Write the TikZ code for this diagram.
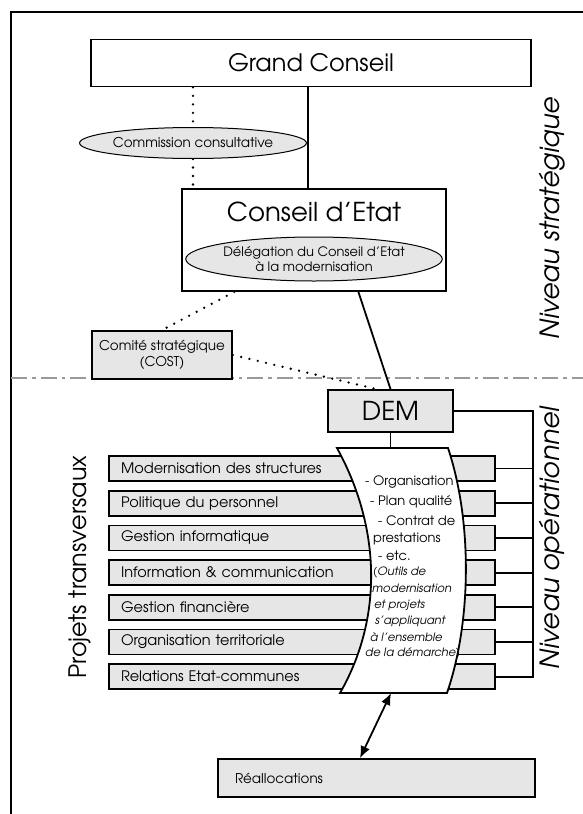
\documentclass[tikz,border=0pt]{standalone}
\usepackage{fontspec}
\setmainfont{texgyreadventor}[Extension=.otf, UprightFont=*-regular, ItalicFont=*-italic, BoldFont=*-bold, BoldItalicFont=*-bolditalic]
\usetikzlibrary{calc,arrows.meta,shapes.geometric}
\definecolor{boxgray}{HTML}{E6E6E6}
\definecolor{linegray}{HTML}{9A9A9A}
\tikzset{
  bx/.style={draw, line width=1.8pt, rectangle, inner sep=0pt},
  gbx/.style={bx, fill=boxgray},
  proj/.style={gbx, minimum width=386pt, minimum height=25pt, inner xsep=12pt, text width=362pt, align=left, font=\fontsize{14.5}{16}\selectfont},
  small/.style={font=\fontsize{13.5}{16}\selectfont},
  big/.style={font=\fontsize{26}{30}\selectfont},
  side/.style={rotate=90, font=\fontsize{26.5}{30}\itshape},
  dots/.style={line width=2.6pt, dash pattern=on 0pt off 8.5pt, line cap=round},
  conn/.style={line width=1.8pt},
  scrl/.style={anchor=west, inner sep=0pt, font=\fontsize{13}{15}\selectfont},
  scrli/.style={anchor=west, inner sep=0pt, font=\fontsize{11.5}{13}\itshape},
}
\begin{document}
\begin{tikzpicture}[x=1pt,y=-1pt]
\useasboundingbox (0,0) rectangle (583,814);
% frame
\coordinate (fbl) at (10.5,814);
\coordinate (ftl) at (10.5,11.5);
\coordinate (ftr) at (583,11.5);
\draw[line width=2pt] (fbl) -- (ftl) -- (ftr);
% separator
\coordinate (sepl) at (11,378);
\coordinate (sepr) at (583,378);
\draw[linegray, line width=2.2pt, dash pattern=on 16pt off 5pt on 3.5pt off 5pt] (sepl) -- (sepr);

% nodes
\node[bx, font=\fontsize{24}{28}\selectfont, minimum width=440pt, minimum height=47pt] (GC) at (311,63) {Grand Conseil};
\node[draw, ellipse, line width=1pt, fill=boxgray, minimum width=201pt, minimum height=31pt, inner sep=0pt, small] (CC) at (193,143) {Commission consultative};
\node[bx, minimum width=264pt, minimum height=102pt] (CE) at (314,240) {};
\node[big, inner sep=0pt] (CEt) at (314,212) {Conseil d'Etat};
\node[draw, ellipse, line width=1pt, fill=boxgray, minimum width=232pt, minimum height=44pt, inner sep=0pt, font=\fontsize{13}{15.5}\selectfont, align=center] (DCE) at (314,259) {D\'el\'egation du Conseil d'Etat\\ \`a la modernisation};
\node[gbx, small, align=center, minimum width=140pt, minimum height=48pt] (COST) at (162,355) {Comit\'e strat\'egique\\(COST)};
\node[gbx, big, minimum width=125pt, minimum height=42pt] (DEM) at (390.5,411) {DEM};

% project boxes
\foreach \i/\t in {0/Modernisation des structures, 1/Politique du personnel, 2/Gestion informatique, 3/Information \& communication, 4/Gestion financi\`ere, 5/Organisation territoriale, 6/Relations Etat-communes}{
  \node[proj] (P\i) at (302,{468.5+34.7*\i}) {\t};
}

% bracket
\coordinate (BR) at (533,411);
\coordinate (BRb) at (533,677.5);
\draw[conn] (DEM.east) -- (BR) -- (BRb);
\foreach \i in {0,...,6}{
  \draw[conn] (P\i.east) -- (P\i.east -| BR);
}

% scroll
\coordinate (stl) at (337,448);
\coordinate (str) at (448,448);
\coordinate (sbl) at (340,693);
\coordinate (sbr) at (447,693);
\draw[line width=1.8pt, fill=white, line join=miter] (stl) .. controls (382,530) and (382,620) .. (sbl) -- (sbr) .. controls (472,620) and (472,520) .. (str) -- cycle;
\coordinate (stop) at (390.5,448);
\coordinate (sbot) at (391,693);

\node[scrl] (s1) at (365,482) {- Organisation};
\node[scrl] (s2) at (370,502) {- Plan qualit\'e};
\node[scrl] (s3) at (378,521) {- Contrat de};
\node[scrl] (s4) at (373,539) {prestations};
\node[scrl] (s5) at (378,556) {- etc.};
\node[scrli] (s6) at (373,572) {(Outils de};
\node[scrli] (s7) at (372,588) {modernisation};
\node[scrli] (s8) at (374,605) {et projets};
\node[scrli] (s9) at (375,621) {s'appliquant};
\node[scrli] (s10) at (370,637) {\`a l'ensemble};
\node[scrli] (s11) at (365,653) {de la d\'emarche)};

\draw[conn] (DEM.south) -- (stop);

% Reallocations
\node[gbx, small, minimum width=317pt, minimum height=38pt, inner xsep=17pt, text width=283pt, align=left] (RE) at (376.5,778) {R\'eallocations};
\draw[conn, {Latex[length=12pt,width=10pt]}-{Latex[length=12pt,width=10pt]}] (sbot) -- (RE.north -| 360,0);

% connectors upper part
\draw[dots] (GC.south -| CC.north) -- (CC.north);
\draw[dots] (CC.south) -- (CC.south |- CE.north);
\draw[conn] (GC.south -| 308,0) -- (CE.north -| 308,0);
\draw[dots] ($(CE.south west)!0.2!(CE.south east)$) -- (COST.north);
\draw[dots] (COST.east) -- ($(DEM.north west)!0.39!(DEM.north east)$);
\draw[conn] ($(CE.south west)!0.667!(CE.south east)$) -- (DEM.north);

% side labels
\node[side] (NS) at (552,218) {Niveau strat\'egique};
\node[side] (NO) at (552,538) {Niveau op\'erationnel};
\node[side, font=\fontsize{24}{28}\selectfont] (PT) at (80,567) {Projets transversaux};
\end{tikzpicture}
\end{document}
